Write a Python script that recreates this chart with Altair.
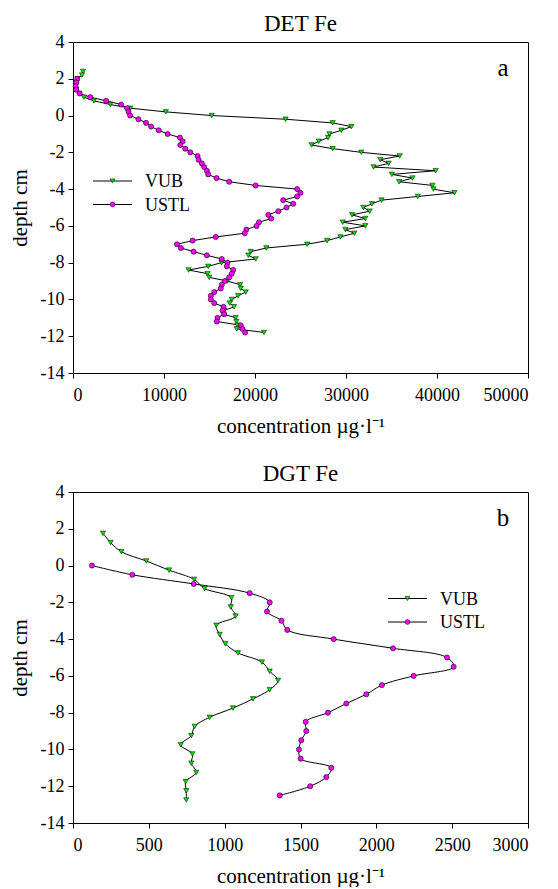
import altair as alt
import pandas as pd

SERIES = ["VUB", "USTL"]

# Panel a: DET Fe
A_VUB_DEPTH = [2.4, 2.2, 2.0, 1.8, 1.6, 1.4, 1.2, 1.0, 0.8, 0.6, 0.4, 0.2, 0.0,
               -0.2, -0.4, -0.6, -0.8, -1.0, -1.2, -1.4, -1.6, -1.8, -2.0, -2.2, -2.4,
               -2.6, -2.8, -3.0, -3.2, -3.4, -3.6, -3.8, -4.0, -4.2, -4.4, -4.6, -4.8,
               -5.0, -5.2, -5.4, -5.6, -5.8, -6.0, -6.2, -6.4, -6.6, -6.8, -7.0, -7.2,
               -7.4, -7.6, -7.8, -8.0, -8.2, -8.4, -8.6, -8.8, -9.0, -9.2, -9.4, -9.6,
               -9.8, -10.0, -10.2, -10.4, -10.6, -10.8, -11.0, -11.2, -11.4, -11.6, -11.8]
A_VUB_CONC = [1100, 990, 500, 380, 300, 360, 700, 1200, 2300, 4100, 6300, 10200, 15250,
              23360, 28540, 30590, 29490, 28180, 28030, 27010, 26210, 28540, 31680, 35900, 33760,
              34680, 33030, 39860, 35040, 37310, 35840, 39500, 39610, 41910, 37890, 33900, 32850,
              31900, 32600, 30660, 32120, 29640, 32120, 29930, 30920, 29380, 27920, 25730, 21240,
              19530, 19270, 20080, 16320, 14860, 12700, 14780, 14970, 16970, 18360, 18430, 18980,
              18140, 17450, 17220, 17700, 16610, 16540, 17880, 17960, 18070, 17990, 20990]

A_USTL_DEPTH = [2.0, 1.8, 1.6, 1.4, 1.2, 1.0, 0.8, 0.6, 0.4, 0.2, 0.0,
                -0.2, -0.4, -0.6, -0.8, -1.0, -1.2, -1.4, -1.6, -1.8, -2.0, -2.2, -2.4,
                -2.6, -2.8, -3.0, -3.2, -3.4, -3.6, -3.8, -4.0, -4.2, -4.4, -4.6, -4.8,
                -5.0, -5.2, -5.4, -5.6, -5.8, -6.0, -6.2, -6.4, -6.6, -6.8, -7.0, -7.2,
                -7.4, -7.6, -7.8, -8.0, -8.2, -8.4, -8.6, -8.8, -9.0, -9.2, -9.4, -9.6,
                -9.8, -10.0, -10.2, -10.4, -10.6, -10.8, -11.0, -11.2, -11.4, -11.6, -11.8]
A_USTL_CONC = [470, 360, 290, 360, 730, 1900, 3650, 5290, 5950, 6100, 6280,
               7190, 8030, 8580, 9420, 10400, 11750, 12050, 11790, 12340, 12890, 13690, 13800,
               14160, 14420, 14710, 14860, 15770, 17160, 20070, 24640, 25000, 24640, 23100, 24200,
               23470, 22560, 21460, 21790, 20440, 20180, 19050, 18870, 15690, 13140, 11420, 11860,
               13250, 14710, 16350, 16970, 16900, 17600, 17450, 17160, 16680, 16350, 16240, 15520,
               15150, 15150, 15520, 16540, 16430, 16610, 15880, 15800, 18430, 18620, 18910]

# Panel b: DGT Fe
B_VUB_DEPTH = [1.75, 1.25, 0.75, 0.25, -0.25, -0.75, -1.25, -1.75, -2.25, -2.75,
               -3.25, -3.75, -4.25, -4.75, -5.25, -5.75, -6.25, -6.75, -7.25, -7.75,
               -8.25, -8.75, -9.25, -9.75, -10.25, -10.75, -11.25, -11.75, -12.25, -12.75]
B_VUB_CONC = [198, 248, 319, 483, 633, 798, 868, 1044, 1040, 1072,
              945, 967, 1004, 1088, 1246, 1297, 1352, 1297, 1187, 1055,
              901, 802, 780, 710, 787, 780, 813, 743, 747, 747]

B_USTL_DEPTH = [0.0, -0.5, -1.0, -1.5, -2.0, -2.5, -3.0, -3.5, -4.0, -4.5, -5.0, -5.5, -6.0,
                -6.5, -7.0, -7.5, -8.0, -8.5, -9.0, -9.5, -10.0, -10.5, -11.0, -11.5, -12.0, -12.5]
B_USTL_CONC = [125, 391, 796, 1165, 1297, 1279, 1374, 1413, 1719, 2110, 2466, 2510, 2246,
               2037, 1934, 1802, 1681, 1534, 1538, 1505, 1490, 1501, 1703, 1670, 1564, 1363]

FONT = "Liberation Serif"
GREEN = "#00e000"
MAGENTA = "#ff00ff"
XTITLE = "concentration µg·l⁻¹"


def frame(depth, conc):
    return pd.DataFrame({"depth": depth, "conc": conc, "idx": list(range(len(depth)))})


def panel(title, letter, vub, ustl, xmax, xstep, interp, leg_x, leg_y):
    xs = alt.Scale(domain=[0, xmax], nice=False, zero=False)
    ys = alt.Scale(domain=[-14, 4], nice=False, zero=False)
    xax = alt.Axis(values=list(range(0, xmax + 1, xstep)), labelExpr="'' + datum.value",
                   title=XTITLE, titlePadding=11, labelPadding=8)
    yax = alt.Axis(values=list(range(-14, 5, 2)), labelExpr="'' + datum.value",
                   title="depth cm", titlePadding=10, labelPadding=4)
    enc = dict(x=alt.X("conc:Q", scale=xs, axis=xax),
               y=alt.Y("depth:Q", scale=ys, axis=yax),
               order=alt.Order("idx:Q"))
    layers = []
    for df in (vub, ustl):
        layers.append(alt.Chart(df).mark_line(color="black", strokeWidth=1,
                                               interpolate=interp).encode(**enc))
    layers.append(alt.Chart(vub).mark_point(shape="triangle-down", filled=True, fill=GREEN,
                                            stroke="black", strokeWidth=0.5, size=28,
                                            opacity=1).encode(**enc))
    layers.append(alt.Chart(ustl).mark_point(shape="circle", filled=True, fill=MAGENTA,
                                             stroke="black", strokeWidth=0.6, size=26,
                                             opacity=1).encode(**enc))
    # legend
    for i, (name, shape, col) in enumerate(zip(SERIES, ["triangle-down", "circle"], [GREEN, MAGENTA])):
        ld = pd.DataFrame({"series": [name]})
        yy = leg_y + i * 23.5
        layers.append(alt.Chart(ld).mark_rule(color="black", strokeWidth=1).encode(
            x=alt.value(leg_x), x2=alt.value(leg_x + 39), y=alt.value(yy)))
        layers.append(alt.Chart(ld).mark_point(shape=shape, filled=True, fill=col, stroke="black",
                                               strokeWidth=0.5, size=24, opacity=1).encode(
            x=alt.value(leg_x + 19.5), y=alt.value(yy)))
        layers.append(alt.Chart(ld).mark_text(align="left", baseline="middle", font=FONT,
                                              fontSize=18, color="black").encode(
            x=alt.value(leg_x + 52), y=alt.value(yy + 1), text="series:N"))
    ltr = pd.DataFrame({"t": [letter]})
    layers.append(alt.Chart(ltr).mark_text(align="center", baseline="middle", font=FONT,
                                           fontSize=25, color="black").encode(
        x=alt.value(430), y=alt.value(26), text="t:N"))
    return alt.layer(*layers).properties(
        width=455, height=331,
        title=alt.TitleParams(title, font=FONT, fontSize=23, fontWeight="normal",
                              color="black", anchor="middle", offset=-3))


pa = panel("DET Fe", "a", frame(A_VUB_DEPTH, A_VUB_CONC), frame(A_USTL_DEPTH, A_USTL_CONC),
           50000, 10000, "linear", 20, 139)
pb = panel("DGT Fe", "b", frame(B_VUB_DEPTH, B_VUB_CONC), frame(B_USTL_DEPTH, B_USTL_CONC),
           3000, 500, "catmull-rom", 315, 106.5)

chart = alt.vconcat(pa, pb, spacing=25).properties(
    padding={"left": 0, "top": 4, "right": 0, "bottom": 0}
).configure_view(stroke="black", strokeWidth=1).configure_axis(
    labelFont=FONT, labelFontSize=18, labelColor="black", titleFont=FONT, titleFontSize=21,
    titleFontWeight="normal", titleColor="black", tickColor="black", domainColor="black",
    tickSize=5, grid=False, domainWidth=1, tickWidth=1
)

chart.save("out.html", embed_options={"renderer": "svg", "actions": False})
